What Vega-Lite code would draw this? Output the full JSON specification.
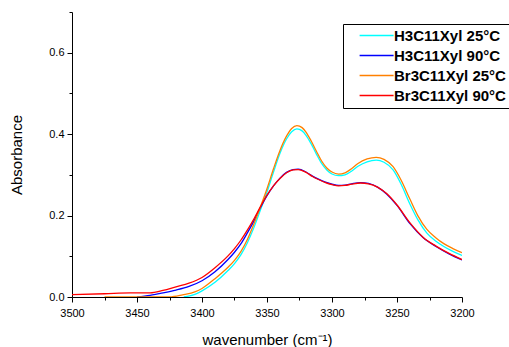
{
  "$schema": "https://vega.github.io/schema/vega-lite/v6.json",
  "autosize": {"type": "none"},
  "width": 390,
  "height": 285,
  "padding": {"left": 72, "top": 12, "right": 47, "bottom": 50},
  "config": {
    "view": {"stroke": null},
    "font": "Liberation Sans",
    "axis": {"domainColor": "black", "tickColor": "black", "labelColor": "black", "titleColor": "black", "labelFont": "Liberation Sans", "titleFont": "Liberation Sans", "labelFontSize": 11, "titleFontSize": 15, "titleFontWeight": "normal", "grid": false}
  },
  "datasets": {
    "spectra": [
      {"wn": 3414, "a": 0.000, "s": "H3C11Xyl 25°C"},
      {"wn": 3405, "a": 0.007, "s": "H3C11Xyl 25°C"},
      {"wn": 3400, "a": 0.015, "s": "H3C11Xyl 25°C"},
      {"wn": 3390, "a": 0.036, "s": "H3C11Xyl 25°C"},
      {"wn": 3380, "a": 0.065, "s": "H3C11Xyl 25°C"},
      {"wn": 3375, "a": 0.082, "s": "H3C11Xyl 25°C"},
      {"wn": 3370, "a": 0.104, "s": "H3C11Xyl 25°C"},
      {"wn": 3365, "a": 0.134, "s": "H3C11Xyl 25°C"},
      {"wn": 3360, "a": 0.171, "s": "H3C11Xyl 25°C"},
      {"wn": 3355, "a": 0.214, "s": "H3C11Xyl 25°C"},
      {"wn": 3350, "a": 0.258, "s": "H3C11Xyl 25°C"},
      {"wn": 3345, "a": 0.307, "s": "H3C11Xyl 25°C"},
      {"wn": 3340, "a": 0.353, "s": "H3C11Xyl 25°C"},
      {"wn": 3335, "a": 0.388, "s": "H3C11Xyl 25°C"},
      {"wn": 3331, "a": 0.406, "s": "H3C11Xyl 25°C"},
      {"wn": 3327, "a": 0.413, "s": "H3C11Xyl 25°C"},
      {"wn": 3323, "a": 0.408, "s": "H3C11Xyl 25°C"},
      {"wn": 3320, "a": 0.397, "s": "H3C11Xyl 25°C"},
      {"wn": 3316, "a": 0.376, "s": "H3C11Xyl 25°C"},
      {"wn": 3312, "a": 0.351, "s": "H3C11Xyl 25°C"},
      {"wn": 3308, "a": 0.328, "s": "H3C11Xyl 25°C"},
      {"wn": 3304, "a": 0.312, "s": "H3C11Xyl 25°C"},
      {"wn": 3300, "a": 0.302, "s": "H3C11Xyl 25°C"},
      {"wn": 3295, "a": 0.298, "s": "H3C11Xyl 25°C"},
      {"wn": 3290, "a": 0.300, "s": "H3C11Xyl 25°C"},
      {"wn": 3285, "a": 0.309, "s": "H3C11Xyl 25°C"},
      {"wn": 3280, "a": 0.321, "s": "H3C11Xyl 25°C"},
      {"wn": 3273, "a": 0.332, "s": "H3C11Xyl 25°C"},
      {"wn": 3266, "a": 0.336, "s": "H3C11Xyl 25°C"},
      {"wn": 3260, "a": 0.331, "s": "H3C11Xyl 25°C"},
      {"wn": 3253, "a": 0.312, "s": "H3C11Xyl 25°C"},
      {"wn": 3247, "a": 0.278, "s": "H3C11Xyl 25°C"},
      {"wn": 3240, "a": 0.228, "s": "H3C11Xyl 25°C"},
      {"wn": 3234, "a": 0.190, "s": "H3C11Xyl 25°C"},
      {"wn": 3227, "a": 0.157, "s": "H3C11Xyl 25°C"},
      {"wn": 3220, "a": 0.137, "s": "H3C11Xyl 25°C"},
      {"wn": 3214, "a": 0.124, "s": "H3C11Xyl 25°C"},
      {"wn": 3207, "a": 0.112, "s": "H3C11Xyl 25°C"},
      {"wn": 3200, "a": 0.102, "s": "H3C11Xyl 25°C"},

      {"wn": 3450, "a": 0.000, "s": "H3C11Xyl 90°C"},
      {"wn": 3440, "a": 0.004, "s": "H3C11Xyl 90°C"},
      {"wn": 3430, "a": 0.010, "s": "H3C11Xyl 90°C"},
      {"wn": 3420, "a": 0.017, "s": "H3C11Xyl 90°C"},
      {"wn": 3410, "a": 0.026, "s": "H3C11Xyl 90°C"},
      {"wn": 3400, "a": 0.040, "s": "H3C11Xyl 90°C"},
      {"wn": 3390, "a": 0.062, "s": "H3C11Xyl 90°C"},
      {"wn": 3380, "a": 0.092, "s": "H3C11Xyl 90°C"},
      {"wn": 3375, "a": 0.110, "s": "H3C11Xyl 90°C"},
      {"wn": 3370, "a": 0.131, "s": "H3C11Xyl 90°C"},
      {"wn": 3365, "a": 0.158, "s": "H3C11Xyl 90°C"},
      {"wn": 3360, "a": 0.187, "s": "H3C11Xyl 90°C"},
      {"wn": 3355, "a": 0.220, "s": "H3C11Xyl 90°C"},
      {"wn": 3350, "a": 0.249, "s": "H3C11Xyl 90°C"},
      {"wn": 3345, "a": 0.273, "s": "H3C11Xyl 90°C"},
      {"wn": 3340, "a": 0.292, "s": "H3C11Xyl 90°C"},
      {"wn": 3335, "a": 0.306, "s": "H3C11Xyl 90°C"},
      {"wn": 3330, "a": 0.313, "s": "H3C11Xyl 90°C"},
      {"wn": 3326, "a": 0.314, "s": "H3C11Xyl 90°C"},
      {"wn": 3320, "a": 0.307, "s": "H3C11Xyl 90°C"},
      {"wn": 3315, "a": 0.297, "s": "H3C11Xyl 90°C"},
      {"wn": 3310, "a": 0.289, "s": "H3C11Xyl 90°C"},
      {"wn": 3305, "a": 0.282, "s": "H3C11Xyl 90°C"},
      {"wn": 3300, "a": 0.277, "s": "H3C11Xyl 90°C"},
      {"wn": 3295, "a": 0.274, "s": "H3C11Xyl 90°C"},
      {"wn": 3290, "a": 0.275, "s": "H3C11Xyl 90°C"},
      {"wn": 3285, "a": 0.278, "s": "H3C11Xyl 90°C"},
      {"wn": 3278, "a": 0.281, "s": "H3C11Xyl 90°C"},
      {"wn": 3272, "a": 0.279, "s": "H3C11Xyl 90°C"},
      {"wn": 3265, "a": 0.270, "s": "H3C11Xyl 90°C"},
      {"wn": 3258, "a": 0.253, "s": "H3C11Xyl 90°C"},
      {"wn": 3250, "a": 0.225, "s": "H3C11Xyl 90°C"},
      {"wn": 3240, "a": 0.180, "s": "H3C11Xyl 90°C"},
      {"wn": 3230, "a": 0.146, "s": "H3C11Xyl 90°C"},
      {"wn": 3220, "a": 0.124, "s": "H3C11Xyl 90°C"},
      {"wn": 3210, "a": 0.106, "s": "H3C11Xyl 90°C"},
      {"wn": 3200, "a": 0.091, "s": "H3C11Xyl 90°C"},

      {"wn": 3475, "a": 0.000, "s": "Br3C11Xyl 25°C"},
      {"wn": 3425, "a": 0.000, "s": "Br3C11Xyl 25°C"},
      {"wn": 3415, "a": 0.005, "s": "Br3C11Xyl 25°C"},
      {"wn": 3405, "a": 0.013, "s": "Br3C11Xyl 25°C"},
      {"wn": 3400, "a": 0.021, "s": "Br3C11Xyl 25°C"},
      {"wn": 3390, "a": 0.045, "s": "Br3C11Xyl 25°C"},
      {"wn": 3380, "a": 0.073, "s": "Br3C11Xyl 25°C"},
      {"wn": 3375, "a": 0.090, "s": "Br3C11Xyl 25°C"},
      {"wn": 3370, "a": 0.112, "s": "Br3C11Xyl 25°C"},
      {"wn": 3365, "a": 0.142, "s": "Br3C11Xyl 25°C"},
      {"wn": 3360, "a": 0.180, "s": "Br3C11Xyl 25°C"},
      {"wn": 3355, "a": 0.222, "s": "Br3C11Xyl 25°C"},
      {"wn": 3350, "a": 0.266, "s": "Br3C11Xyl 25°C"},
      {"wn": 3345, "a": 0.315, "s": "Br3C11Xyl 25°C"},
      {"wn": 3340, "a": 0.360, "s": "Br3C11Xyl 25°C"},
      {"wn": 3335, "a": 0.395, "s": "Br3C11Xyl 25°C"},
      {"wn": 3331, "a": 0.414, "s": "Br3C11Xyl 25°C"},
      {"wn": 3327, "a": 0.421, "s": "Br3C11Xyl 25°C"},
      {"wn": 3323, "a": 0.416, "s": "Br3C11Xyl 25°C"},
      {"wn": 3320, "a": 0.405, "s": "Br3C11Xyl 25°C"},
      {"wn": 3316, "a": 0.383, "s": "Br3C11Xyl 25°C"},
      {"wn": 3312, "a": 0.358, "s": "Br3C11Xyl 25°C"},
      {"wn": 3308, "a": 0.334, "s": "Br3C11Xyl 25°C"},
      {"wn": 3304, "a": 0.317, "s": "Br3C11Xyl 25°C"},
      {"wn": 3300, "a": 0.307, "s": "Br3C11Xyl 25°C"},
      {"wn": 3295, "a": 0.302, "s": "Br3C11Xyl 25°C"},
      {"wn": 3290, "a": 0.305, "s": "Br3C11Xyl 25°C"},
      {"wn": 3285, "a": 0.315, "s": "Br3C11Xyl 25°C"},
      {"wn": 3280, "a": 0.328, "s": "Br3C11Xyl 25°C"},
      {"wn": 3273, "a": 0.339, "s": "Br3C11Xyl 25°C"},
      {"wn": 3266, "a": 0.343, "s": "Br3C11Xyl 25°C"},
      {"wn": 3260, "a": 0.338, "s": "Br3C11Xyl 25°C"},
      {"wn": 3253, "a": 0.320, "s": "Br3C11Xyl 25°C"},
      {"wn": 3247, "a": 0.288, "s": "Br3C11Xyl 25°C"},
      {"wn": 3240, "a": 0.240, "s": "Br3C11Xyl 25°C"},
      {"wn": 3234, "a": 0.200, "s": "Br3C11Xyl 25°C"},
      {"wn": 3227, "a": 0.166, "s": "Br3C11Xyl 25°C"},
      {"wn": 3220, "a": 0.145, "s": "Br3C11Xyl 25°C"},
      {"wn": 3214, "a": 0.131, "s": "Br3C11Xyl 25°C"},
      {"wn": 3207, "a": 0.119, "s": "Br3C11Xyl 25°C"},
      {"wn": 3200, "a": 0.109, "s": "Br3C11Xyl 25°C"},

      {"wn": 3500, "a": 0.006, "s": "Br3C11Xyl 90°C"},
      {"wn": 3475, "a": 0.008, "s": "Br3C11Xyl 90°C"},
      {"wn": 3455, "a": 0.010, "s": "Br3C11Xyl 90°C"},
      {"wn": 3440, "a": 0.010, "s": "Br3C11Xyl 90°C"},
      {"wn": 3430, "a": 0.016, "s": "Br3C11Xyl 90°C"},
      {"wn": 3420, "a": 0.025, "s": "Br3C11Xyl 90°C"},
      {"wn": 3410, "a": 0.034, "s": "Br3C11Xyl 90°C"},
      {"wn": 3400, "a": 0.048, "s": "Br3C11Xyl 90°C"},
      {"wn": 3390, "a": 0.072, "s": "Br3C11Xyl 90°C"},
      {"wn": 3380, "a": 0.101, "s": "Br3C11Xyl 90°C"},
      {"wn": 3375, "a": 0.119, "s": "Br3C11Xyl 90°C"},
      {"wn": 3370, "a": 0.140, "s": "Br3C11Xyl 90°C"},
      {"wn": 3365, "a": 0.165, "s": "Br3C11Xyl 90°C"},
      {"wn": 3360, "a": 0.192, "s": "Br3C11Xyl 90°C"},
      {"wn": 3355, "a": 0.222, "s": "Br3C11Xyl 90°C"},
      {"wn": 3350, "a": 0.250, "s": "Br3C11Xyl 90°C"},
      {"wn": 3345, "a": 0.273, "s": "Br3C11Xyl 90°C"},
      {"wn": 3340, "a": 0.291, "s": "Br3C11Xyl 90°C"},
      {"wn": 3335, "a": 0.305, "s": "Br3C11Xyl 90°C"},
      {"wn": 3330, "a": 0.312, "s": "Br3C11Xyl 90°C"},
      {"wn": 3326, "a": 0.313, "s": "Br3C11Xyl 90°C"},
      {"wn": 3320, "a": 0.306, "s": "Br3C11Xyl 90°C"},
      {"wn": 3315, "a": 0.296, "s": "Br3C11Xyl 90°C"},
      {"wn": 3310, "a": 0.288, "s": "Br3C11Xyl 90°C"},
      {"wn": 3305, "a": 0.281, "s": "Br3C11Xyl 90°C"},
      {"wn": 3300, "a": 0.276, "s": "Br3C11Xyl 90°C"},
      {"wn": 3295, "a": 0.273, "s": "Br3C11Xyl 90°C"},
      {"wn": 3290, "a": 0.274, "s": "Br3C11Xyl 90°C"},
      {"wn": 3285, "a": 0.277, "s": "Br3C11Xyl 90°C"},
      {"wn": 3278, "a": 0.280, "s": "Br3C11Xyl 90°C"},
      {"wn": 3272, "a": 0.278, "s": "Br3C11Xyl 90°C"},
      {"wn": 3265, "a": 0.270, "s": "Br3C11Xyl 90°C"},
      {"wn": 3258, "a": 0.254, "s": "Br3C11Xyl 90°C"},
      {"wn": 3250, "a": 0.226, "s": "Br3C11Xyl 90°C"},
      {"wn": 3240, "a": 0.182, "s": "Br3C11Xyl 90°C"},
      {"wn": 3230, "a": 0.147, "s": "Br3C11Xyl 90°C"},
      {"wn": 3220, "a": 0.125, "s": "Br3C11Xyl 90°C"},
      {"wn": 3210, "a": 0.107, "s": "Br3C11Xyl 90°C"},
      {"wn": 3200, "a": 0.092, "s": "Br3C11Xyl 90°C"}
    ]
  },
  "data": {"name": "spectra"},
  "mark": {"type": "line", "interpolate": "monotone", "strokeWidth": 1.3, "clip": true},
  "encoding": {
    "x": {
      "field": "wn", "type": "quantitative",
      "scale": {"domain": [3200, 3500], "reverse": true, "nice": false, "zero": false},
      "axis": {
        "title": "wavenumber (cm⁻¹)",
        "values": [3200, 3225, 3250, 3275, 3300, 3325, 3350, 3375, 3400, 3425, 3450, 3475, 3500],
        "format": "d",
        "labelExpr": "datum.value % 50 === 0 ? datum.label : ''",
        "tickSize": {"condition": {"test": "datum.value % 50 === 0", "value": 5}, "value": 3},
        "labelPadding": 5,
        "titlePadding": 14,
        "labelFlush": false,
        "labelOverlap": false
      }
    },
    "y": {
      "field": "a", "type": "quantitative",
      "scale": {"domain": [0, 0.7], "nice": false},
      "axis": {
        "title": "Absorbance",
        "values": [0, 0.1, 0.2, 0.3, 0.4, 0.5, 0.6, 0.7],
        "format": ".1f",
        "labelExpr": "round(datum.value * 10) % 2 === 0 ? datum.label : ''",
        "tickSize": {"condition": {"test": "round(datum.value * 10) % 2 === 0", "value": 5}, "value": 3},
        "labelPadding": 3,
        "titlePadding": 24,
        "labelOverlap": false
      }
    },
    "color": {
      "field": "s", "type": "nominal",
      "scale": {
        "domain": ["H3C11Xyl 25°C", "H3C11Xyl 90°C", "Br3C11Xyl 25°C", "Br3C11Xyl 90°C"],
        "range": ["#00FFFF", "#0000FF", "#FF8000", "#FF0000"]
      },
      "legend": {
        "orient": "none", "legendX": 271, "legendY": 12,
        "title": null,
        "strokeColor": "black", "fillColor": "white",
        "padding": 4,
        "labelFont": "Liberation Sans", "labelFontSize": 15, "labelFontWeight": "bold", "labelColor": "black",
        "symbolType": "M0.75,0H5.75", "symbolSize": 185, "symbolStrokeWidth": 1.3,
        "labelOffset": 32,
        "rowPadding": 4
      }
    }
  }
}
